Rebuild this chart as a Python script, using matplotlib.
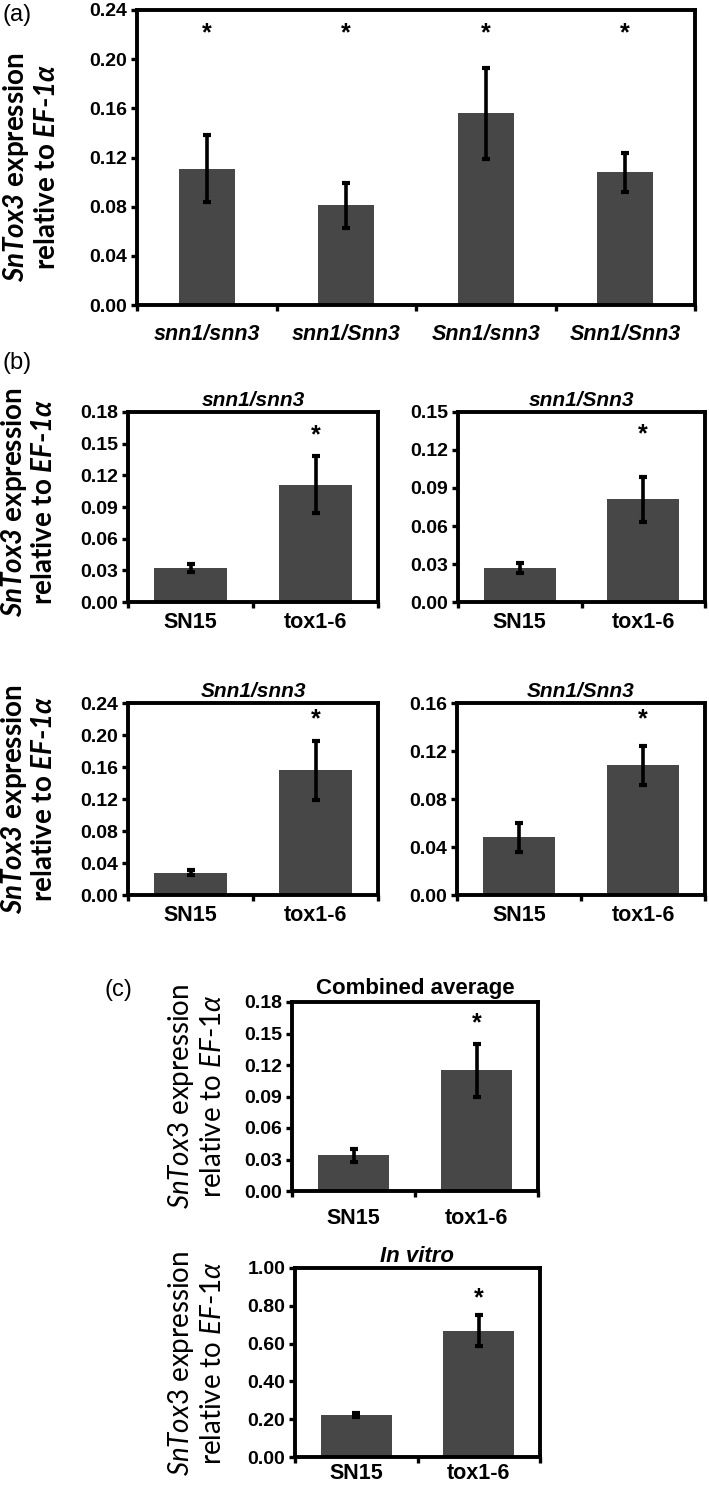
import numpy as np
import matplotlib
matplotlib.use('Agg')
import matplotlib.pyplot as plt
from matplotlib.ticker import MultipleLocator, FormatStrFormatter

# ---- data ----
a_lines = ['snn1/snn3', 'snn1/Snn3', 'Snn1/snn3', 'Snn1/Snn3']
a_means = [0.111, 0.081, 0.156, 0.108]
a_errs = [0.027, 0.018, 0.037, 0.016]
a_stars = [0.221, 0.221, 0.221, 0.221]

strains = ['SN15', 'tox1-6']
b_titles = ['snn1/snn3', 'snn1/Snn3', 'Snn1/snn3', 'Snn1/Snn3']
b_means = [[0.032, 0.111], [0.027, 0.081], [0.028, 0.156], [0.048, 0.108]]
b_errs = [[0.004, 0.027], [0.004, 0.018], [0.003, 0.037], [0.012, 0.016]]
b_ymax = [0.18, 0.15, 0.24, 0.16]
b_ystep = [0.03, 0.03, 0.04, 0.04]
b_stars = [0.158, 0.132, 0.219, 0.146]

c_titles = ['Combined average', 'In vitro']
c_means = [[0.034, 0.115], [0.222, 0.668]]
c_errs = [[0.006, 0.025], [0.010, 0.083]]
c_ymax = [0.18, 1.0]
c_ystep = [0.03, 0.2]
c_stars = [0.160, 0.84]

W, H = 709, 1491
BAR = '#474747'
ARIAL = ['Liberation Sans', 'DejaVu Sans']

plt.rcParams['mathtext.fontset'] = 'custom'
plt.rcParams['mathtext.rm'] = 'Lato'
plt.rcParams['mathtext.it'] = 'Lato:italic'
plt.rcParams['mathtext.bf'] = 'Lato:bold'
plt.rcParams['mathtext.bfit'] = 'Lato:italic:bold'

fig = plt.figure(figsize=(W / 100, H / 100), dpi=100)


def add_ax(left, top, right, bottom):
    # pixel box -> figure fraction
    return fig.add_axes([left / W, 1 - bottom / H, (right - left) / W, (bottom - top) / H])


def bar_panel(ax, names, means, errs, ymax, ystep, width, xstyle, xpad, stars):
    x = np.arange(len(names))
    ax.bar(x, means, width, color=BAR, zorder=2)
    ax.errorbar(x, means, yerr=errs, fmt='none', ecolor='black', elinewidth=2.6,
                capsize=3, capthick=3, zorder=3)
    ax.set_xlim(-0.5, len(names) - 0.5)
    ax.set_ylim(0, ymax)
    ax.yaxis.set_major_locator(MultipleLocator(ystep))
    ax.yaxis.set_major_formatter(FormatStrFormatter('%.2f'))
    ax.set_xticks(x)
    ax.set_xticklabels(names, family=ARIAL, fontsize=15.5, fontweight='bold', style=xstyle)
    ax.set_xticks(np.arange(len(names) + 1) - 0.5, minor=True)
    ax.tick_params(axis='x', which='major', length=0, pad=xpad)
    ax.tick_params(axis='x', which='minor', length=4, width=2.4, direction='out')
    ax.tick_params(axis='y', length=4, width=2.4, direction='out', pad=3)
    for lab in ax.get_yticklabels():
        lab.set_family(ARIAL)
        lab.set_fontsize(14)
        lab.set_fontweight('bold')
    for s in ax.spines.values():
        s.set_linewidth(2.8)
    for i, sy in enumerate(stars):
        if sy is not None:
            ax.text(x[i], sy, '*', ha='center', va='center', fontsize=18,
                    fontweight='bold', family=ARIAL)


def ylabel(xa, xb, yc, bold, size):
    w = 'bold' if bold else 'normal'
    f = r'\mathbfit' if bold else r'\mathit'
    fig.text(xa / W, 1 - yc / H, '$' + f + '{SnTox3}$ expression', rotation=90,
             ha='center', va='center', fontsize=size, family='Lato', fontweight=w)
    fig.text(xb / W, 1 - yc / H, 'relative to $' + f + '{EF}$-$' + f + '{1α}$', rotation=90,
             ha='center', va='center', fontsize=size, family='Lato', fontweight=w)


# ---- panel (a) ----
ax = add_ax(137, 10, 695, 305)
bar_panel(ax, a_lines, a_means, a_errs, 0.24, 0.04, 0.4, 'italic', 14, a_stars)
ylabel(16, 47, 167, True, 20)
fig.text(2 / W, 1 - 15 / H, '(a)', fontsize=17, family=ARIAL, va='center', ha='left')

# ---- panel (b) ----
fig.text(2 / W, 1 - 363 / H, '(b)', fontsize=17, family=ARIAL, va='center', ha='left')
b_boxes = [(128, 412, 378, 602), (458, 412, 705, 602),
           (128, 703, 378, 895), (457, 703, 705, 895)]
for k, box in enumerate(b_boxes):
    ax = add_ax(*box)
    stars = [None, b_stars[k]]
    bar_panel(ax, strains, b_means[k], b_errs[k], b_ymax[k], b_ystep[k], 0.58,
              'normal', 7, stars)
    ax.set_title(b_titles[k], family=ARIAL, fontsize=15, fontweight='bold',
                 style='italic', pad=4)
ylabel(14, 44, 502, True, 20)
ylabel(14, 44, 799, True, 20)

# ---- panel (c) ----
fig.text(118 / W, 1 - 990 / H, '(c)', fontsize=17, family=ARIAL, va='center', ha='center')
c_boxes = [(292, 1002, 538, 1191), (295, 1268, 540, 1457)]
c_pads = [(12, 6), (4, 4)]
for k, box in enumerate(c_boxes):
    ax = add_ax(*box)
    bar_panel(ax, strains, c_means[k], c_errs[k], c_ymax[k], c_ystep[k], 0.58,
              'normal', c_pads[k][0], [None, c_stars[k]])
    ax.set_title(c_titles[k], family=ARIAL, fontsize=16, fontweight='bold',
                 style='italic' if k == 1 else 'normal', pad=c_pads[k][1])
ylabel(181, 213, 1096, False, 20)
ylabel(181, 213, 1363, False, 20)

fig.savefig('out.png', dpi=100)
